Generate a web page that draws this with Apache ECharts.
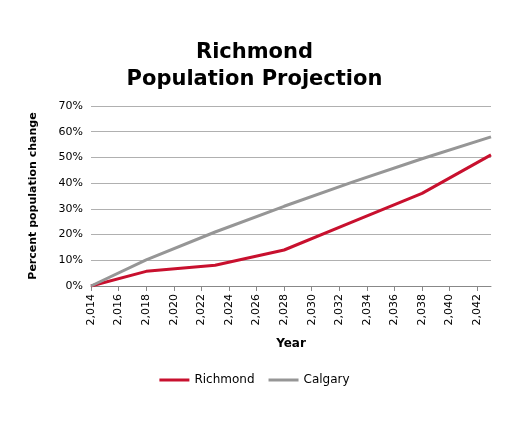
<!DOCTYPE html>
<html><head><meta charset="utf-8">
<script src="https://cdn.jsdelivr.net/npm/echarts@6/dist/echarts.min.js"></script>
<style>html,body{margin:0;padding:0;background:#fff}#c{width:509px;height:425px}</style>
</head><body><div id="c"></div>
<script>
const years = [2014, 2018, 2023, 2028, 2033, 2038, 2043];
const richmond = [0, 5.7, 8.1, 14, 25, 36, 51];
const calgary = [0, 10.2, 21, 31, 40.5, 49.5, 58];
const chart = echarts.init(document.getElementById('c'));
const font = 'DejaVu Sans';
chart.setOption({
  animation:false,
  title:{text:'Richmond\nPopulation Projection',left:'center',top:34,
    textStyle:{fontFamily:font,fontSize:21,fontWeight:'bold',color:'#000',lineHeight:27}},
  legend:{bottom:34,left:'center',itemWidth:30,itemHeight:3,icon:'rect',itemGap:14,
    textStyle:{fontFamily:font,fontSize:12,color:'#000'},data:['Richmond','Calgary']},
  grid:{left:91,right:18,top:106,bottom:139},
  xAxis:{type:'value',min:2014,max:2043,interval:2,name:'Year',nameLocation:'middle',nameGap:52,
    nameTextStyle:{fontFamily:font,fontSize:12,fontWeight:'bold',color:'#000'},
    axisLine:{lineStyle:{color:'#888'}},axisTick:{show:true,lineStyle:{color:'#888'}},splitLine:{show:false},
    axisLabel:{rotate:90,fontFamily:font,fontSize:11,color:'#000',showMaxLabel:false}},
  yAxis:{type:'value',min:0,max:70,interval:10,name:'Percent population change',nameLocation:'middle',nameGap:52,
    nameTextStyle:{fontFamily:font,fontSize:11,fontWeight:'bold',color:'#000'},
    axisLine:{show:false},axisTick:{show:false},
    splitLine:{lineStyle:{color:'#b0b0b0'}},
    axisLabel:{formatter:'{value}%',fontFamily:font,fontSize:11,color:'#000'}},
  series:[
    {name:'Richmond',type:'line',data:years.map((y,i)=>[y,richmond[i]]),showSymbol:false,
      lineStyle:{color:'#c8102e',width:3},itemStyle:{color:'#c8102e'}},
    {name:'Calgary',type:'line',data:years.map((y,i)=>[y,calgary[i]]),showSymbol:false,
      lineStyle:{color:'#969696',width:3},itemStyle:{color:'#969696'}}
  ]
});
</script></body></html>
